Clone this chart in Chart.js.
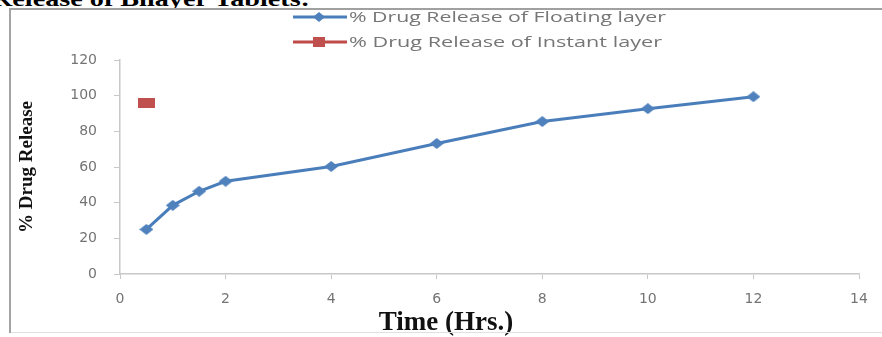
<!DOCTYPE html>
<html>
<head>
<meta charset="utf-8">
<script src="https://cdn.jsdelivr.net/npm/chart.js@4.4.1/dist/chart.umd.min.js"></script>
<style>
  html, body { margin: 0; padding: 0; background: #ffffff; }
  body { width: 882px; height: 337px; position: relative; overflow: hidden; }
  #backdrop { position: absolute; left: 0; top: 0; z-index: 0; }
  #chart { position: absolute; left: 0; top: 0; z-index: 1; }
  #overlay { position: absolute; left: 0; top: 0; z-index: 2; }
</style>
</head>
<body>
<svg id="backdrop" width="882" height="337">
  <text x="-8" y="6" font-family="Liberation Serif" font-weight="bold" font-size="22" fill="#000"
        textLength="318" lengthAdjust="spacingAndGlyphs">Release of Bilayer Tablets:</text>
  <rect x="10" y="9" width="872" height="324" fill="#ffffff"/>
</svg>
<canvas id="chart" width="882" height="337"></canvas>
<svg id="overlay" width="882" height="337">
  <line x1="9" y1="9" x2="882" y2="9" stroke="#a0a0a0" stroke-width="2"/>
  <line x1="10" y1="8" x2="10" y2="333" stroke="#a4a4a4" stroke-width="2"/>
  <line x1="11" y1="332.5" x2="882" y2="332.5" stroke="#e0e0e0" stroke-width="1"/>
  <g id="legend"></g>
</svg>

<script>
// Time points (hours) and cumulative release (%)
const hours = [0.5, 1, 1.5, 2, 4, 6, 8, 10, 12];
const floatingRelease = [25, 38.5, 46.4, 52, 60.3, 73.2, 85.5, 92.7, 99.4];
const instantHours = [0.5];
const instantRelease = [96];

const seriesNames = ['% Drug Release of Floating layer', '% Drug Release of Instant layer'];
const seriesColors = ['#4A7EBB', '#BE4B48'];

const xTickValues = [0, 2, 4, 6, 8, 10, 12, 14];
const yTickValues = [0, 20, 40, 60, 80, 100, 120];

// Marker images: a flattened diamond and a wide square
function diamondMarker(w, h, color) {
  const c = document.createElement('canvas');
  c.width = w; c.height = h;
  const g = c.getContext('2d');
  g.fillStyle = color;
  g.beginPath();
  g.moveTo(w / 2, 0); g.lineTo(w, h / 2); g.lineTo(w / 2, h); g.lineTo(0, h / 2);
  g.closePath();
  g.fill();
  return c;
}
function rectMarker(w, h, color) {
  const c = document.createElement('canvas');
  c.width = w; c.height = h;
  const g = c.getContext('2d');
  g.fillStyle = color;
  g.fillRect(0, 0, w, h);
  return c;
}

const tickFont = { family: 'DejaVu Sans', size: 14 };
const tickColor = '#747474';
const axisColor = '#c8c8c8';

new Chart(document.getElementById('chart'), {
  type: 'line',
  data: {
    datasets: [
      {
        label: seriesNames[0],
        data: hours.map((h, i) => ({ x: h, y: floatingRelease[i] })),
        borderColor: seriesColors[0],
        backgroundColor: seriesColors[0],
        borderWidth: 3,
        pointStyle: diamondMarker(14, 11, '#4F81BD'),
        tension: 0,
        fill: false
      },
      {
        label: seriesNames[1],
        data: instantHours.map((h, i) => ({ x: h, y: instantRelease[i] })),
        borderColor: seriesColors[1],
        backgroundColor: seriesColors[1],
        borderWidth: 3,
        pointStyle: rectMarker(17, 10, '#C0504D'),
        fill: false
      }
    ]
  },
  options: {
    responsive: false,
    animation: false,
    events: [],
    layout: { padding: { left: 10, top: 60, right: 0, bottom: 0 } },
    plugins: {
      legend: { display: false },
      tooltip: { enabled: false },
      title: {
        display: true,
        text: 'Time (Hrs.)',
        position: 'bottom',
        color: '#111111',
        font: { family: 'Liberation Serif', weight: 'bold', size: 27, lineHeight: 1 },
        padding: { top: 0, bottom: 0 }
      }
    },
    scales: {
      x: {
        type: 'linear',
        min: 0, max: 14,
        afterBuildTicks: s => { s.ticks = xTickValues.map(v => ({ value: v })); },
        afterFit: s => { s.height = 36; },
        grid: { display: true, drawOnChartArea: false, drawTicks: true, tickLength: 5, color: axisColor },
        border: { display: true, color: axisColor, width: 1.5 },
        ticks: { font: tickFont, color: tickColor, padding: 12, maxRotation: 0 }
      },
      y: {
        type: 'linear',
        min: 0, max: 120,
        afterBuildTicks: s => { s.ticks = yTickValues.map(v => ({ value: v })); },
        afterFit: s => { s.width = 110; },
        grid: { display: true, drawOnChartArea: false, drawTicks: true, tickLength: 6, color: axisColor },
        border: { display: true, color: axisColor, width: 1.5 },
        ticks: { font: tickFont, color: tickColor, padding: 17 },
        title: {
          display: true,
          text: '% Drug Release',
          color: '#111111',
          font: { family: 'Liberation Serif', weight: 'bold', size: 19, lineHeight: 1.2 },
          padding: { top: 6, bottom: 0 }
        }
      },
      spacer: {
        type: 'linear',
        position: 'right',
        display: true,
        afterFit: s => { s.width = 23; },
        grid: { display: false },
        border: { display: false },
        ticks: { display: false }
      }
    }
  }
});

// Two-row legend above the plot
(function buildLegend() {
  const g = document.getElementById('legend');
  const ns = 'http://www.w3.org/2000/svg';
  const rows = [17, 42];
  const textLengths = [317, 313];
  rows.forEach((y, i) => {
    const line = document.createElementNS(ns, 'line');
    line.setAttribute('x1', 293); line.setAttribute('x2', 347);
    line.setAttribute('y1', y); line.setAttribute('y2', y);
    line.setAttribute('stroke', seriesColors[i]); line.setAttribute('stroke-width', 3);
    g.appendChild(line);
    let mark;
    if (i === 0) {
      mark = document.createElementNS(ns, 'polygon');
      mark.setAttribute('points', `${319},${y - 5} ${325},${y} ${319},${y + 5} ${313},${y}`);
      mark.setAttribute('fill', '#4F81BD');
    } else {
      mark = document.createElementNS(ns, 'rect');
      mark.setAttribute('x', 313); mark.setAttribute('y', y - 5);
      mark.setAttribute('width', 12); mark.setAttribute('height', 10);
      mark.setAttribute('fill', '#C0504D');
    }
    g.appendChild(mark);
    const t = document.createElementNS(ns, 'text');
    t.setAttribute('x', 349); t.setAttribute('y', y + 5);
    t.setAttribute('font-family', 'Open Sans');
    t.setAttribute('font-size', 14);
    t.setAttribute('fill', '#767676');
    t.setAttribute('textLength', textLengths[i]);
    t.setAttribute('lengthAdjust', 'spacingAndGlyphs');
    t.textContent = seriesNames[i];
    g.appendChild(t);
  });
})();
</script>
</body>
</html>
